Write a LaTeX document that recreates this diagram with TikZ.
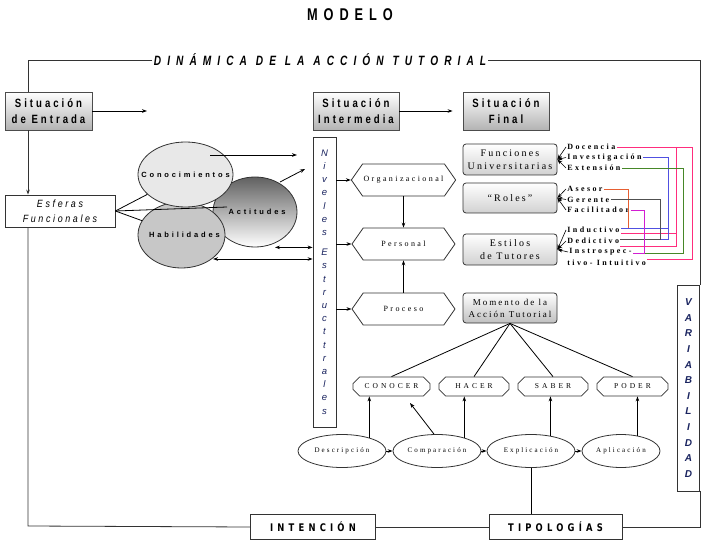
\documentclass[tikz,border=0pt]{standalone}
\usepackage{fontspec}
\setmainfont{Liberation Serif}
\newfontfamily\tsans[FakeStretch=0.75,LetterSpace=35]{Liberation Sans}
\newfontfamily\dsans[FakeStretch=0.75,LetterSpace=45]{Liberation Sans}
\newfontfamily\hsans[FakeStretch=0.8,LetterSpace=25]{Liberation Sans}
\newfontfamily\wsans[LetterSpace=38]{Liberation Sans}
\newfontfamily\isans[FakeStretch=0.85,LetterSpace=25]{Liberation Sans}
\newfontfamily\vsans{Liberation Sans}
\newfontfamily\tserif[LetterSpace=22]{Liberation Serif}
\newfontfamily\lserif[LetterSpace=30]{Liberation Serif}
\newfontfamily\wserif[LetterSpace=40]{Liberation Serif}
\newfontfamily\csans[FakeStretch=0.8,LetterSpace=40]{DejaVu Sans}
\usetikzlibrary{shapes.geometric,shapes.symbols,shapes.misc,arrows.meta,calc}
\definecolor{pkline}{RGB}{255,45,125}
\definecolor{blline}{RGB}{80,80,225}
\definecolor{grline}{RGB}{70,135,40}
\definecolor{orline}{RGB}{230,95,50}
\definecolor{gyline}{RGB}{80,80,80}
\definecolor{mgline}{RGB}{210,30,210}
\definecolor{navy}{RGB}{25,35,95}

\begin{document}
\begin{tikzpicture}[x=1pt,y=-1pt,line width=0.8pt,
  >={Stealth[length=5pt,width=3.6pt]},
  every node/.style={inner sep=1pt},
  sitbox/.style={draw=black!70,top color=white,bottom color=black!30,minimum height=38pt,
    align=center,font=\hsans\bfseries\fontsize{12}{16}\selectfont},
  esfbox/.style={draw=black!80,fill=white,minimum width=110pt,minimum height=32pt,
    align=center,font=\isans\itshape\fontsize{10.5}{15}\selectfont},
  ell/.style={draw=black!80,ellipse,inner sep=0pt,font=\wsans\bfseries\fontsize{7.5}{9}\selectfont},
  vbox/.style={draw=black!80,fill=white,align=center},
  hexa/.style={draw=black!80,fill=white,shape=signal,signal to=east and west,
    signal pointer angle=110,minimum width=103pt,minimum height=32pt,
    font=\lserif\fontsize{8}{10}\selectfont},
  rbox/.style={draw=black!80,rounded corners=3pt,top color=white,bottom color=black!18,
    minimum width=94pt,minimum height=31pt,align=center,font=\tserif\fontsize{10}{13}\selectfont},
  item/.style={anchor=west,inner sep=1pt,font=\lserif\bfseries\fontsize{8}{9}\selectfont},
  verb/.style={draw=black!80,chamfered rectangle,chamfered rectangle xsep=4pt,
    minimum height=19pt,font=\wserif\fontsize{7.5}{9}\selectfont},
  oval/.style={draw=black!80,ellipse,minimum width=88pt,minimum height=33pt,
    font=\lserif\fontsize{7}{8}\selectfont},
  endbox/.style={draw=black!80,fill=white,minimum height=25pt,font=\csans\bfseries\fontsize{10.5}{12}\selectfont},
  cl/.style={line width=0.9pt}]
\useasboundingbox (0,0) rectangle (704,540);

\node[font=\tsans\bfseries\fontsize{17}{17}\selectfont] (mod) at (350,15) {MODELO};
\node[font=\dsans\bfseries\itshape\fontsize{13.5}{13.5}\selectfont] (din) at (320,60) {DINÁMICA DE LA ACCIÓN TUTORIAL};

\node[sitbox,minimum width=87pt] (ent) at (48.5,111) {Situación\\de Entrada};
\node[sitbox,minimum width=86pt] (int) at (356,111) {Situación\\Intermedia};
\node[sitbox,minimum width=86pt] (fin) at (506,111) {Situación\\Final};
\node[esfbox] (esf) at (60,211) {Esferas\\Funcionales};

\node[ell,top color=black!62,bottom color=white,minimum width=84pt,minimum height=70pt] (act) at (255,212) {\makebox[0pt]{\hspace*{4pt}Actitudes}};
\node[ell,fill=black!22,minimum width=87pt,minimum height=66pt] (hab) at (181.5,235) {\makebox[0pt]{\hspace*{6pt}Habilidades}};
\node[ell,fill=black!9,minimum width=95pt,minimum height=65pt] (con) at (185.5,174.5) {\raisebox{-3pt}{\makebox[0pt]{Conocimientos}}};

\node[vbox,minimum width=23pt,minimum height=290pt,text=navy,
  font=\vsans\itshape\fontsize{9.5}{13.2}\selectfont] (niv) at (324.5,282)
  {N\\i\\v\\e\\l\\e\\s\\[7pt]E\\s\\t\\r\\u\\c\\t\\t\\r\\a\\l\\e\\s};
\node[vbox,minimum width=22pt,minimum height=206pt,text=navy,
  font=\vsans\bfseries\itshape\fontsize{10}{15.6}\selectfont] (var) at (688.5,388)
  {V\\A\\R\\I\\A\\B\\I\\L\\I\\D\\A\\D};

\node[hexa] (org) at (403.5,180) {Organizacional};
\node[hexa] (per) at (403.5,244) {Personal};
\node[hexa] (pro) at (403.5,309) {Proceso};

\node[rbox] (fun) at (510,159.5) {Funciones\\Universitarias};
\node[rbox,minimum height=30pt] (rol) at (510,198) {“Roles”};
\node[rbox] (est) at (510,249.5) {Estilos\\de Tutores};
\node[rbox,minimum height=30pt,bottom color=black!25,font=\tserif\fontsize{9}{12}\selectfont] (mom) at (510,308) {Momento de la\\Acción Tutorial};

\node[item] (doc) at (566,147) {Docencia};
\node[item] (inv) at (566,157.5) {Investigación};
\node[item] (ext) at (566,168) {Extensión};
\node[item] (ase) at (566,189) {Asesor};
\node[item] (ger) at (566,199.5) {Gerente};
\node[item] (fac) at (566,210) {Facilitador};
\node[item] (ind) at (566,230) {Inductivo};
\node[item] (ded) at (566,241) {Dedictivo};
\node[item] (ins) at (568,252) {Instrospec-};
\node[item] (intu) at (566,262.5) {tivo- Intuitivo};

\node[verb,minimum width=77pt] (cono) at (391.5,386.5) {CONOCER};
\node[verb,minimum width=70pt] (hac) at (474,386.5) {HACER};
\node[verb,minimum width=70pt] (sab) at (553,386.5) {SABER};
\node[verb,minimum width=71pt] (pod) at (632.5,386.5) {PODER};

\node[oval] (desc) at (342,451) {Descripción};
\node[oval] (comp) at (437,451) {Comparación};
\node[oval] (expl) at (531,451) {Explicación};
\node[oval,minimum width=78pt] (apl) at (621,451) {Aplicación};

\node[endbox,minimum width=125pt] (inten) at (313,527) {INTENCIÓN};
\node[endbox,minimum width=133pt] (tipo) at (555.5,527) {TIPOLOGÍAS};

\coordinate (tl) at (28,60);
\coordinate (bl) at (28,526);
\coordinate (entB) at (147,111);
\coordinate (conA) at (210,155);
\coordinate (conB) at (297,155);
\coordinate (actA) at (280,182);
\coordinate (actB) at (305,169);
\coordinate (esfC) at (227,207);
\coordinate (habR) at (213,259);
\coordinate (cmpT) at (410,403);

\draw[black!80] (din.west) -- (tl) -- (tl |- ent.north);
\draw[black!80,->] (tl |- ent.south) -- (tl |- esf.north);
\draw[black!80] (tl |- esf.south) -- (bl) -- (inten.west);
\draw[black!80] (inten.east) -- (tipo.west);
\draw[black!80] (tipo.east) -| (var.south east);
\draw[black!80] (var.north east) |- (din.east);

\draw[->] (ent.east) -- (entB);
\draw[->] (int.east) -- ([xshift=-10pt]fin.west);
\draw (esf.east) -- (con);
\draw (esf.east) -- (hab);
\draw (esf.east) -- (esfC);
\draw[->] (conA) -- (conB);
\draw[->] (actA) -- (actB);
\draw[<->] ([xshift=20pt]act.south) -- (niv.west |- act.south);
\draw[<->] (habR) -- (niv.west |- habR);

\draw[->] (niv.east |- org.west) -- (org.west);
\draw[->] (niv.east |- per.west) -- (per.west);
\draw[->] (niv.east |- pro.west) -- (pro.west);
\draw[->] (org.south) -- (per.north);
\draw[->] (pro.north) -- (per.south);

\draw[<-,line width=0.6pt] (fun.east) -- (doc.west);
\draw[<-,line width=0.6pt] (fun.east) -- (inv.west);
\draw[<-,line width=0.6pt] (fun.east) -- (ext.west);
\draw[<-,line width=0.6pt] (rol.east) -- (ase.west);
\draw[<-,line width=0.6pt] (rol.east) -- (ger.west);
\draw[<-,line width=0.6pt] (rol.east) -- (fac.west);
\draw[<-,line width=0.6pt] (est.east) -- (ind.west);
\draw[<-,line width=0.6pt] (est.east) -- (ded.west);
\draw[<-,line width=0.6pt] (est.east) -- (ins.west);

\coordinate (cOr) at (628,0);
\coordinate (cMg) at (644,0);
\coordinate (cGy) at (660,0);
\coordinate (cBl) at (668,0);
\coordinate (cPk) at (676,0);
\coordinate (cGr) at (683,0);
\coordinate (cPo) at (692,0);
\draw[cl,pkline] (doc.east) -| ($(cPo |- intu.east)+(0,-3)$) -- ($(intu.east)+(0,-3)$);
\draw[cl,pkline] (doc.east -| cPk) -- ($(cPk |- ded.east)+(0,5)$) -- ($(ded.east)+(0,5)$);
\draw[cl,pkline] ($(cPk |- ind.east)+(0,3)$) -- ($(ind.east)+(0,3)$);
\draw[cl,blline] (inv.east) -| ($(cBl |- ded.east)+(0,-2)$) -- ($(ded.east)+(0,-2)$);
\draw[cl,blline] ($(cBl |- ind.east)+(0,-2)$) -- ($(ind.east)+(0,-2)$);
\draw[cl,grline] (ext.east) -| ($(cGr |- ins.east)+(0,1)$) -- ($(cMg |- ins.east)+(0,1)$);
\draw[cl,orline] (ase.east) -| ($(cOr |- ind.east)+(0,-2)$);
\draw[cl,gyline] (ger.east) -| ($(cGy |- ded.east)+(0,-2)$) -- ($(ded.east)+(0,-2)$);
\draw[cl,mgline] (fac.east) -| ($(cMg |- ins.east)+(0,1)$) -- ($(ins.east)+(0,1)$);

\draw (mom.south) -- (cono.north);
\draw (mom.south) -- (hac.north);
\draw (mom.south) -- (sab.north);
\draw (mom.south) -- (pod.north);

\draw[->] (desc.26) -- (desc.26 |- cono.south);
\draw[->] (comp.26) -- (comp.26 |- hac.south);
\draw[->] (expl.38) -- (expl.38 |- sab.south);
\draw[->] (apl.43) -- (apl.43 |- pod.south);
\draw[->] (comp.100) -- (cmpT);
\draw[->] (desc.east) -- (comp.west);
\draw[->] (comp.east) -- (expl.west);
\draw[->] (expl.east) -- (apl.west);
\draw (expl.south) -- (expl.south |- tipo.north);
\end{tikzpicture}
\end{document}
